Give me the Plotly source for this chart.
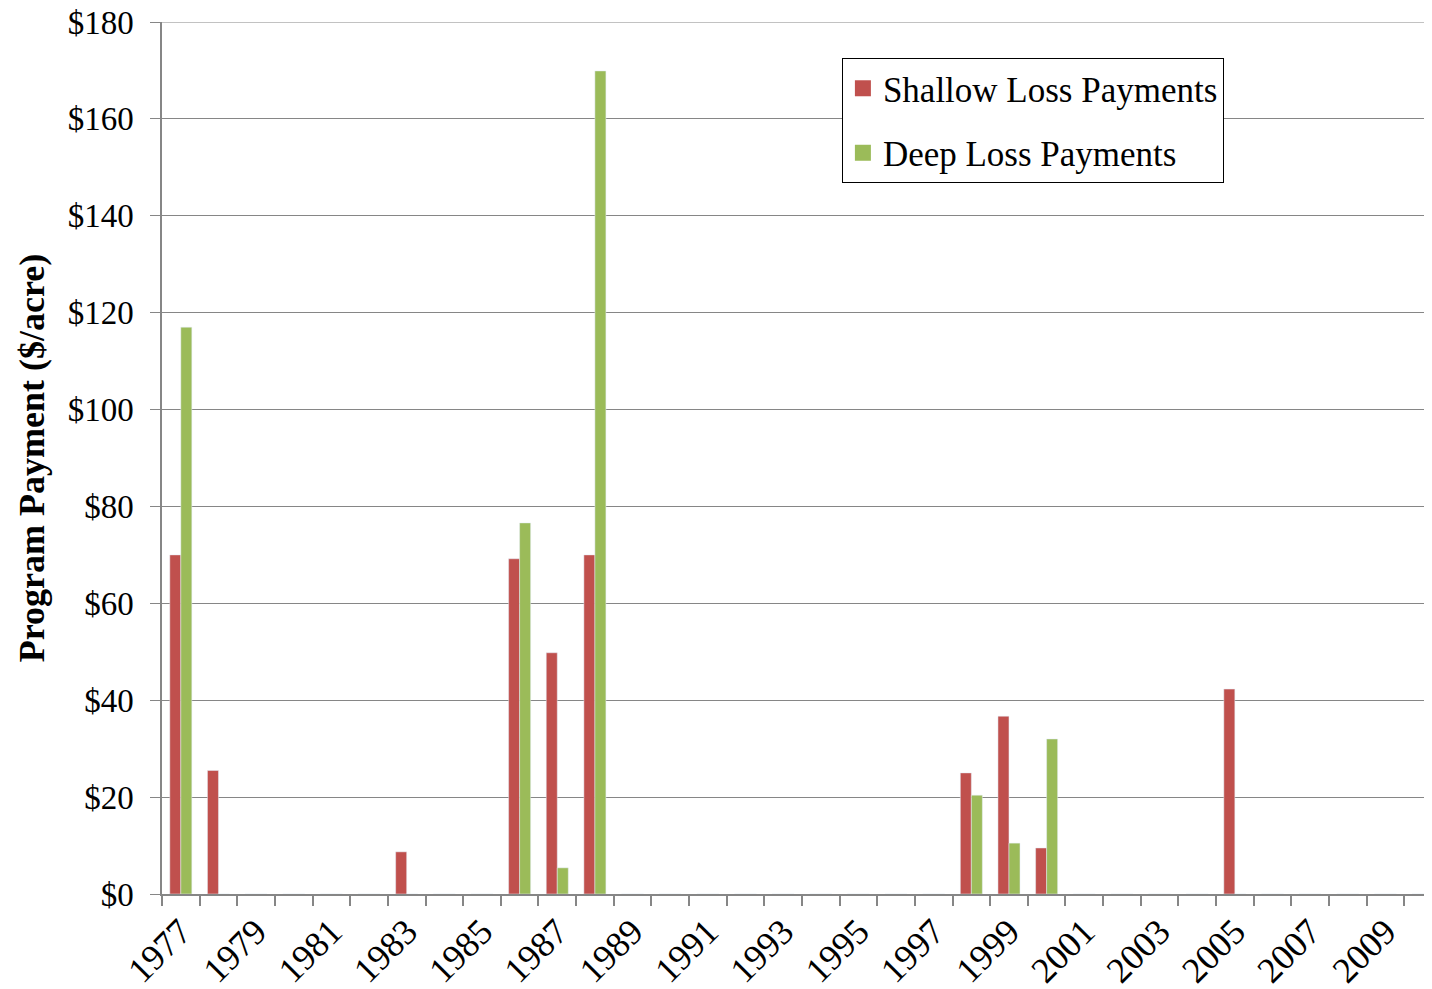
import plotly.graph_objects as go

years = list(range(1977, 2011))
shallow = {1977: 70, 1978: 25.5, 1983: 8.7, 1986: 69.2, 1987: 49.8, 1988: 70,
           1998: 25, 1999: 36.7, 2000: 9.5, 2005: 42.3}
deep = {1977: 117, 1986: 76.6, 1987: 5.4, 1988: 169.9, 1998: 20.4, 1999: 10.5, 2000: 32}
shallow_vals = [shallow.get(y, 0) for y in years]
deep_vals = [deep.get(y, 0) for y in years]
x_idx = list(range(len(years)))
label_years = [y for y in years if (y - 1977) % 2 == 0 and y <= 2009]
y_max = 180

font_family = "Liberation Serif, Times New Roman, serif"
RED = "#C0504D"
GREEN = "#9BBB59"
GRID = "#868686"

fig = go.Figure()
fig.add_trace(go.Bar(x=x_idx, y=shallow_vals, name="Shallow Loss Payments",
                     marker_color=RED, showlegend=False))
fig.add_trace(go.Bar(x=x_idx, y=deep_vals, name="Deep Loss Payments",
                     marker_color=GREEN, showlegend=False))
# legend entries
fig.add_trace(go.Scatter(x=[None], y=[None], mode="markers", name="Shallow Loss Payments",
                         marker=dict(symbol="square", size=17, color=RED), legendgroup="a"))
fig.add_trace(go.Scatter(x=[None], y=[None], mode="markers", name="Deep Loss Payments",
                         marker=dict(symbol="square", size=17, color=GREEN), legendgroup="b"))

# top gridline (plotly omits grid at the range edge)
fig.add_shape(type="line", xref="paper", yref="y", x0=0, x1=1, y0=y_max, y1=y_max,
              line=dict(color=GRID, width=1), layer="below")

fig.update_layout(
    width=1432, height=989,
    margin=dict(l=154, r=0, t=14, b=103, autoexpand=False),
    plot_bgcolor="white", paper_bgcolor="white",
    barmode="group", bargap=0.415, bargroupgap=0,
    font=dict(family=font_family, color="black"),
    legend=dict(x=0.532, y=0.9587, xanchor="left", yanchor="top",
                bordercolor="black", borderwidth=1, bgcolor="white",
                font=dict(size=35), tracegroupgap=16,
                itemwidth=30, itemsizing="trace"),
    showlegend=True,
)
fig.update_xaxes(
    range=[-0.5, 33.45],
    tickmode="array",
    tickvals=[y - 1977 for y in label_years],
    ticktext=[str(y) for y in label_years],
    tickangle=-45, ticks="", tickfont=dict(size=36),
    ticklabeloverflow="allow",
    showline=True, linecolor=GRID, linewidth=2,
    showgrid=False, zeroline=False, automargin=False,
    minor=dict(tickmode="linear", tick0=-0.5, dtick=1, ticks="outside",
               ticklen=10, tickcolor=GRID, tickwidth=1.5, showgrid=False),
)
fig.update_yaxes(
    range=[0, y_max], tick0=0, dtick=20, tickprefix="$",
    tickfont=dict(size=33), ticklabelstandoff=10,
    ticklabeloverflow="allow",
    ticks="outside", ticklen=10, tickcolor=GRID,
    showline=True, linecolor=GRID, linewidth=1.5,
    showgrid=True, gridcolor=GRID, gridwidth=1,
    zeroline=False, automargin=False,
    title=dict(text="<b>Program Payment ($/acre)</b>", font=dict(size=36), standoff=12),
)
fig.write_html("out.html")
